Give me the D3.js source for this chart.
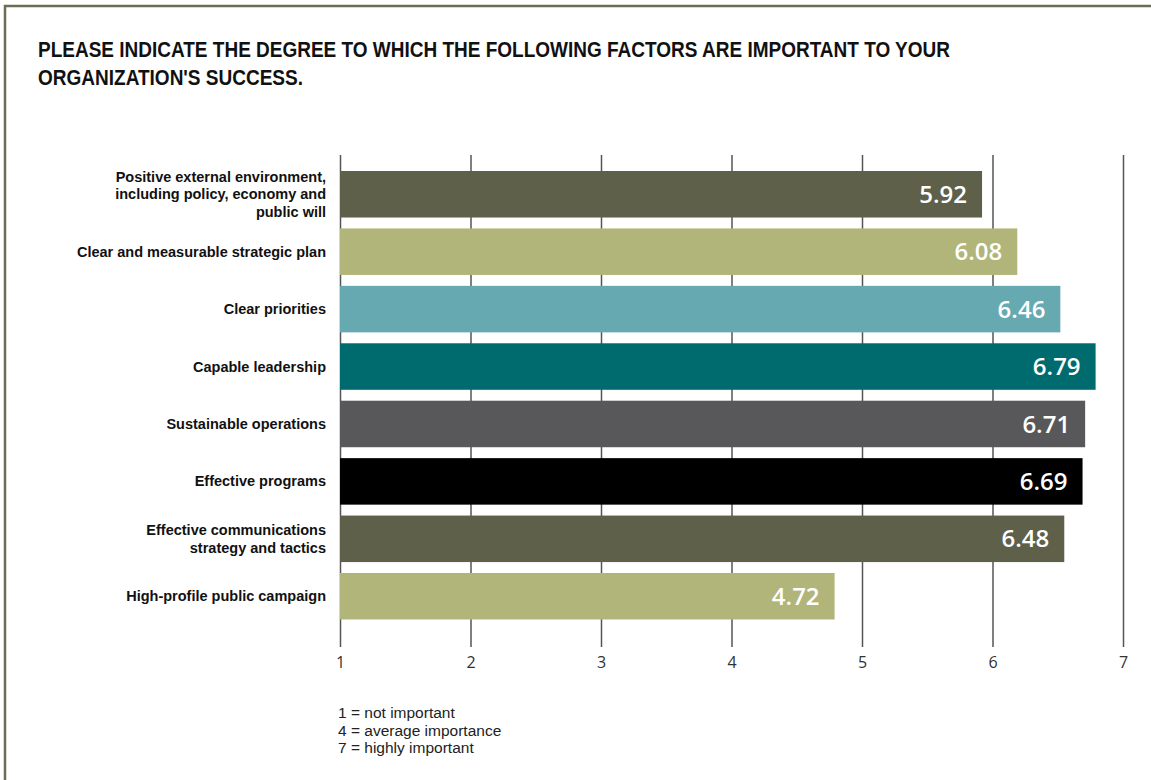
<!DOCTYPE html>
<html>
<head>
<meta charset="utf-8">
<script src="https://cdn.jsdelivr.net/npm/d3@7"></script>
<style>
  body { margin: 0; background: #fff; }
  svg { display: block; }
</style>
</head>
<body>
<div id="chart"></div>
<script>
// Factors, as printed down the left side (one entry per line)
var factors = [
    ['Positive external environment,', 'including policy, economy and', 'public will'],
    ['Clear and measurable strategic plan'],
    ['Clear priorities'],
    ['Capable leadership'],
    ['Sustainable operations'],
    ['Effective programs'],
    ['Effective communications', 'strategy and tactics'],
    ['High-profile public campaign']
];
// Mean scores shown on the bars
var scores = [5.92, 6.08, 6.46, 6.79, 6.71, 6.69, 6.48, 4.72];
// Bar lengths as drawn in the source (a few differ a bit from the printed score)
var barEnds = [5.92, 6.19, 6.52, 6.79, 6.71, 6.69, 6.55, 4.79];
var barColors = ['#5e604a', '#b1b57a', '#67a9b1', '#006b6e', '#58585a', '#000000', '#5e604a', '#b1b57a'];
var ticks = [1, 2, 3, 4, 5, 6, 7];
var titleLines = ['PLEASE INDICATE THE DEGREE TO WHICH THE FOLLOWING FACTORS ARE IMPORTANT TO YOUR',
                  "ORGANIZATION'S SUCCESS."];
var titleWidths = [912, 265];
var notes = ['1 = not important', '4 = average importance', '7 = highly important'];

const width = 1151, height = 780;
const narrow = '"Liberation Sans Narrow", "Arial Narrow", "Liberation Sans", sans-serif';

let svg = d3.select('#chart')
            .append('svg')
            .attr('width', width)
            .attr('height', height);

// frame (top and left edges)
svg.append('path')
   .attr('d', 'M5,780 V6 H1151')
   .attr('fill', 'none')
   .attr('stroke', '#6b6d57')
   .attr('stroke-width', 2.5);

// title, squeezed to the condensed width of the original
svg.append('g').selectAll('text')
   .data(titleLines)
   .join('text')
   .attr('x', 38)
   .attr('y', (d, i) => 57 + i * 28)
   .attr('font-family', narrow)
   .attr('font-weight', 'bold')
   .attr('font-size', 22)
   .attr('fill', '#111')
   .attr('textLength', (d, i) => titleWidths[i])
   .attr('lengthAdjust', 'spacingAndGlyphs')
   .text(d => d);

let x = d3.scaleLinear().domain([1, 7]).range([340, 1123]);
let y = d3.scaleBand()
          .domain(d3.range(factors.length))
          .range([171, 619.5])
          .paddingInner(0.19)
          .paddingOuter(0);

// gridlines + tick labels through a bottom axis
let axis = d3.axisBottom(x)
             .tickValues(ticks)
             .tickSize(492)
             .tickPadding(10)
             .tickFormat(d3.format('d'));

let gAxis = svg.append('g')
               .attr('transform', 'translate(0,155)')
               .call(axis);
gAxis.select('.domain').remove();
gAxis.selectAll('.tick line')
     .attr('stroke', '#555')
     .attr('stroke-width', 1.5);
gAxis.selectAll('.tick text')
     .attr('font-family', '"Open Sans", sans-serif')
     .attr('font-size', 16)
     .attr('fill', '#333');

// bars
svg.append('g').selectAll('rect')
   .data(barEnds)
   .join('rect')
   .attr('x', x(1))
   .attr('y', (d, i) => y(i))
   .attr('width', d => x(d) - x(1))
   .attr('height', y.bandwidth())
   .attr('fill', (d, i) => barColors[i]);

// value labels
svg.append('g').selectAll('text')
   .data(scores)
   .join('text')
   .attr('x', (d, i) => x(barEnds[i]) - 15)
   .attr('y', (d, i) => y(i) + y.bandwidth() / 2)
   .attr('dy', '0.36em')
   .attr('text-anchor', 'end')
   .attr('font-family', '"Open Sans", sans-serif')
   .attr('font-weight', 600)
   .attr('font-size', 24)
   .attr('fill', '#fff')
   .text(d => d.toFixed(2));

// category labels
let cats = svg.append('g').selectAll('text')
   .data(factors)
   .join('text')
   .attr('text-anchor', 'end')
   .attr('font-family', narrow)
   .attr('font-weight', 'bold')
   .attr('font-size', 14.5)
   .attr('fill', '#111')
   .attr('y', (d, i) => y(i) + y.bandwidth() / 2 - (d.length - 1) * 8.75);

cats.selectAll('tspan')
    .data(d => d)
    .join('tspan')
    .attr('x', 326)
    .attr('dy', (d, i) => i == 0 ? '0.35em' : 17.5)
    .text(d => d);

// scale notes
svg.append('g').selectAll('text')
   .data(notes)
   .join('text')
   .attr('x', 338)
   .attr('y', (d, i) => 718 + i * 17.5)
   .attr('font-family', narrow)
   .attr('font-size', 15.5)
   .attr('fill', '#222')
   .text(d => d);
</script>
</body>
</html>
